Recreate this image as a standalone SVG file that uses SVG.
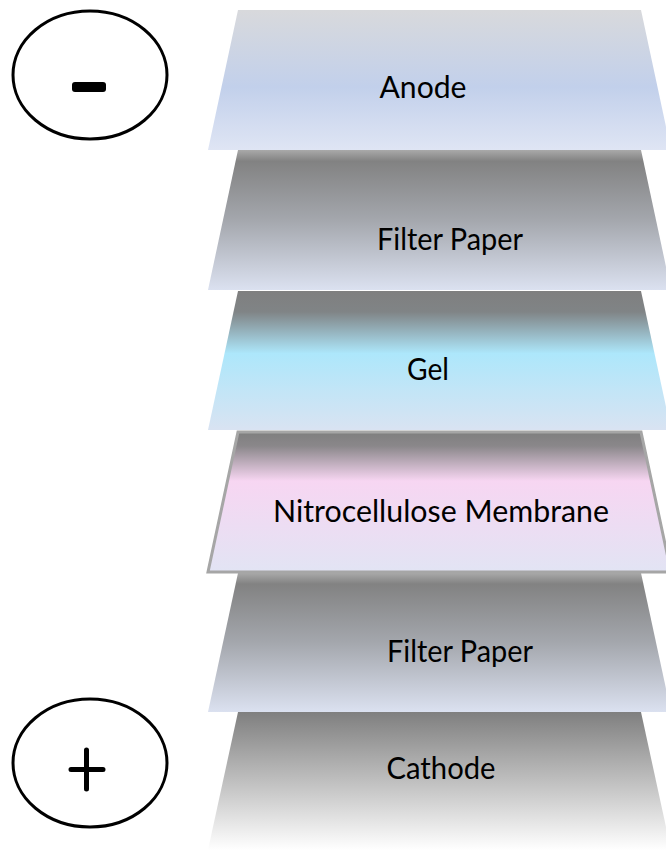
<svg xmlns="http://www.w3.org/2000/svg" width="666" height="851" viewBox="0 0 666 851">
<defs>
<linearGradient id="gAnode" x1="0" y1="0" x2="0" y2="1">
<stop offset="0" stop-color="#d8d9dc"/><stop offset="0.55" stop-color="#c2d0eb"/><stop offset="1" stop-color="#dfe5f4"/>
</linearGradient>
<linearGradient id="gFilter" x1="0" y1="0" x2="0" y2="1">
<stop offset="0" stop-color="#a9a9a9"/><stop offset="0.08" stop-color="#828282"/><stop offset="0.5" stop-color="#a4a7ad"/><stop offset="1" stop-color="#dbe1f0"/>
</linearGradient>
<linearGradient id="gGel" x1="0" y1="0" x2="0" y2="1">
<stop offset="0" stop-color="#7f7f7f"/><stop offset="0.15" stop-color="#808486"/><stop offset="0.45" stop-color="#ade7fb"/><stop offset="1" stop-color="#d9e3f2"/>
</linearGradient>
<linearGradient id="gNitro" x1="0" y1="0" x2="0" y2="1">
<stop offset="0" stop-color="#7f7f7f"/><stop offset="0.1" stop-color="#8a878a"/><stop offset="0.35" stop-color="#f7d6f2"/><stop offset="1" stop-color="#e2e4f4"/>
</linearGradient>
<linearGradient id="gCathode" x1="0" y1="0" x2="0" y2="1">
<stop offset="0" stop-color="#7f7f7f"/><stop offset="1" stop-color="#ffffff"/>
</linearGradient>
</defs>
<style>
.lbl{font-family:Lato,"Open Sans","Liberation Sans",sans-serif;font-size:31px;fill:#000;text-anchor:middle}
.sign{fill:none;stroke:#000;stroke-width:3}
</style>
<rect width="666" height="851" fill="#ffffff"/>
<g id="cathode">
<polygon points="238,712 641,712 671,850 208,850" fill="url(#gCathode)"/>
<text class="lbl" x="441" y="779" textLength="109" lengthAdjust="spacingAndGlyphs">Cathode</text>
</g>
<g id="filter-paper-2">
<polygon points="238,573 641,573 671,712 208,712" fill="url(#gFilter)"/>
<text class="lbl" x="460" y="662" textLength="146" lengthAdjust="spacingAndGlyphs">Filter Paper</text>
</g>
<g id="nitrocellulose">
<polygon points="238,432 641,432 671,572 208,572" fill="url(#gNitro)" stroke="#a6a6a6" stroke-width="3"/>
<text class="lbl" x="441" y="522" textLength="336" lengthAdjust="spacingAndGlyphs">Nitrocellulose Membrane</text>
</g>
<g id="gel">
<polygon points="238,291 641,291 671,430 208,430" fill="url(#gGel)"/>
<text class="lbl" x="428" y="380" textLength="42" lengthAdjust="spacingAndGlyphs">Gel</text>
</g>
<g id="filter-paper-1">
<polygon points="238,150 641,150 671,290 208,290" fill="url(#gFilter)"/>
<text class="lbl" x="450" y="250" textLength="146" lengthAdjust="spacingAndGlyphs">Filter Paper</text>
</g>
<g id="anode">
<polygon points="238,10 641,10 671,150 208,150" fill="url(#gAnode)"/>
<text class="lbl" x="423" y="98" textLength="87" lengthAdjust="spacingAndGlyphs">Anode</text>
</g>
<g id="negative">
<ellipse class="sign" cx="90" cy="75" rx="77" ry="64"/>
<rect x="72" y="82" width="34" height="10" rx="3" fill="#000"/>
</g>
<g id="positive">
<ellipse class="sign" cx="90" cy="763" rx="77" ry="64"/>
<path d="M71,769.5 H103 M86.5,750 V789" stroke="#000" stroke-width="5" stroke-linecap="round" fill="none"/>
</g>
</svg>
